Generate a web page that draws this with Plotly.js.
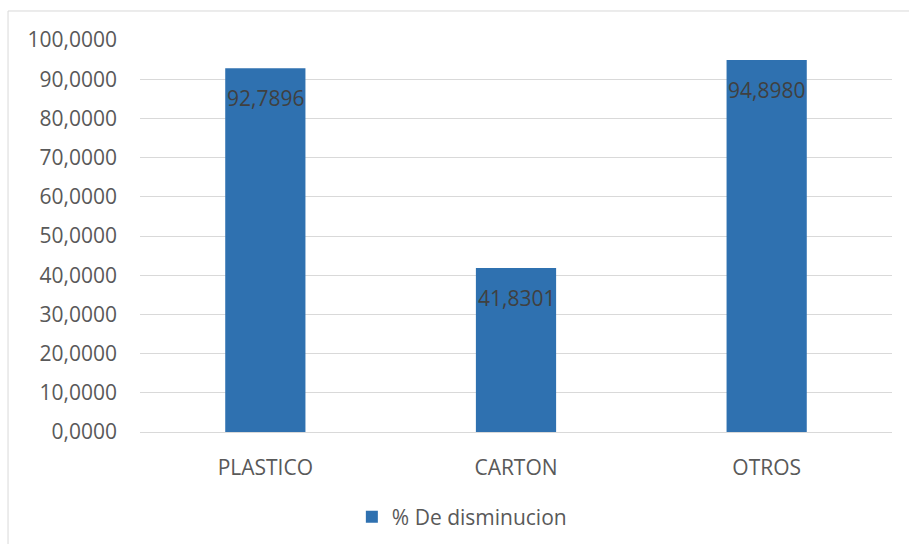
<!DOCTYPE html>
<html>
<head>
<meta charset="utf-8">
<script src="https://cdn.plot.ly/plotly-3.0.1.min.js"></script>
<style>html,body{margin:0;padding:0;background:#fff;}#chart{width:909px;height:544px;}</style>
</head>
<body>
<div id="chart"></div>
<script>
const categories = ['PLASTICO', 'CARTON', 'OTROS'];
const values = [92.7896, 41.8301, 94.8980];
const seriesName = '% De disminucion';
const tickVals = [0, 10, 20, 30, 40, 50, 60, 70, 80, 90, 100];

const fmt = v => v.toFixed(4).replace('.', ',');
const FONT = 'Open Sans, sans-serif';
const FS = 21;

const trace = {
  type: 'bar',
  x: categories,
  y: values,
  name: seriesName,
  marker: {color: '#2F71B0', line: {width: 0}},
  hoverinfo: 'skip',
  showlegend: true
};

const annotations = categories.map((c, i) => ({
  x: c, y: values[i], xref: 'x', yref: 'y',
  text: fmt(values[i]), showarrow: false,
  yanchor: 'top', yshift: -14,
  font: {family: FONT, size: FS, color: '#404040'}
}));

const layout = {
  width: 909, height: 544,
  margin: {l: 140, r: 17, t: 40, b: 112, autoexpand: false},
  paper_bgcolor: '#ffffff', plot_bgcolor: '#ffffff',
  separators: ',.',
  bargap: 0.68,
  font: {family: FONT, size: FS, color: '#595959'},
  xaxis: {
    type: 'category', automargin: false,
    showgrid: false, zeroline: false,
    showline: true, linecolor: '#d9d9d9', linewidth: 1,
    ticks: '', ticklabelstandoff: 17,
    tickfont: {family: FONT, size: FS, color: '#595959'},
    fixedrange: true
  },
  yaxis: {
    range: [0, 100], automargin: false,
    tickvals: tickVals,
    tickformat: '.4f',
    showgrid: true, gridcolor: '#d9d9d9', gridwidth: 1,
    zeroline: false, showline: false,
    ticks: '', ticklabelstandoff: 22,
    tickfont: {family: FONT, size: FS, color: '#595959'},
    fixedrange: true
  },
  legend: {
    orientation: 'h', x: 0.428, xanchor: 'center', y: -0.217, yanchor: 'middle',
    font: {family: FONT, size: FS, color: '#595959'},
    itemclick: false
  },
  annotations: annotations,
  shapes: [{
    type: 'rect', xref: 'paper', yref: 'paper',
    x0: -0.1755, x1: 1.2, y0: -0.6, y1: 1.074,
    line: {color: '#d9d9d9', width: 1}, fillcolor: 'rgba(0,0,0,0)', layer: 'below'
  }],
  showlegend: true
};

Plotly.newPlot('chart', [trace], layout, {displayModeBar: false, staticPlot: true});
</script>
</body>
</html>
